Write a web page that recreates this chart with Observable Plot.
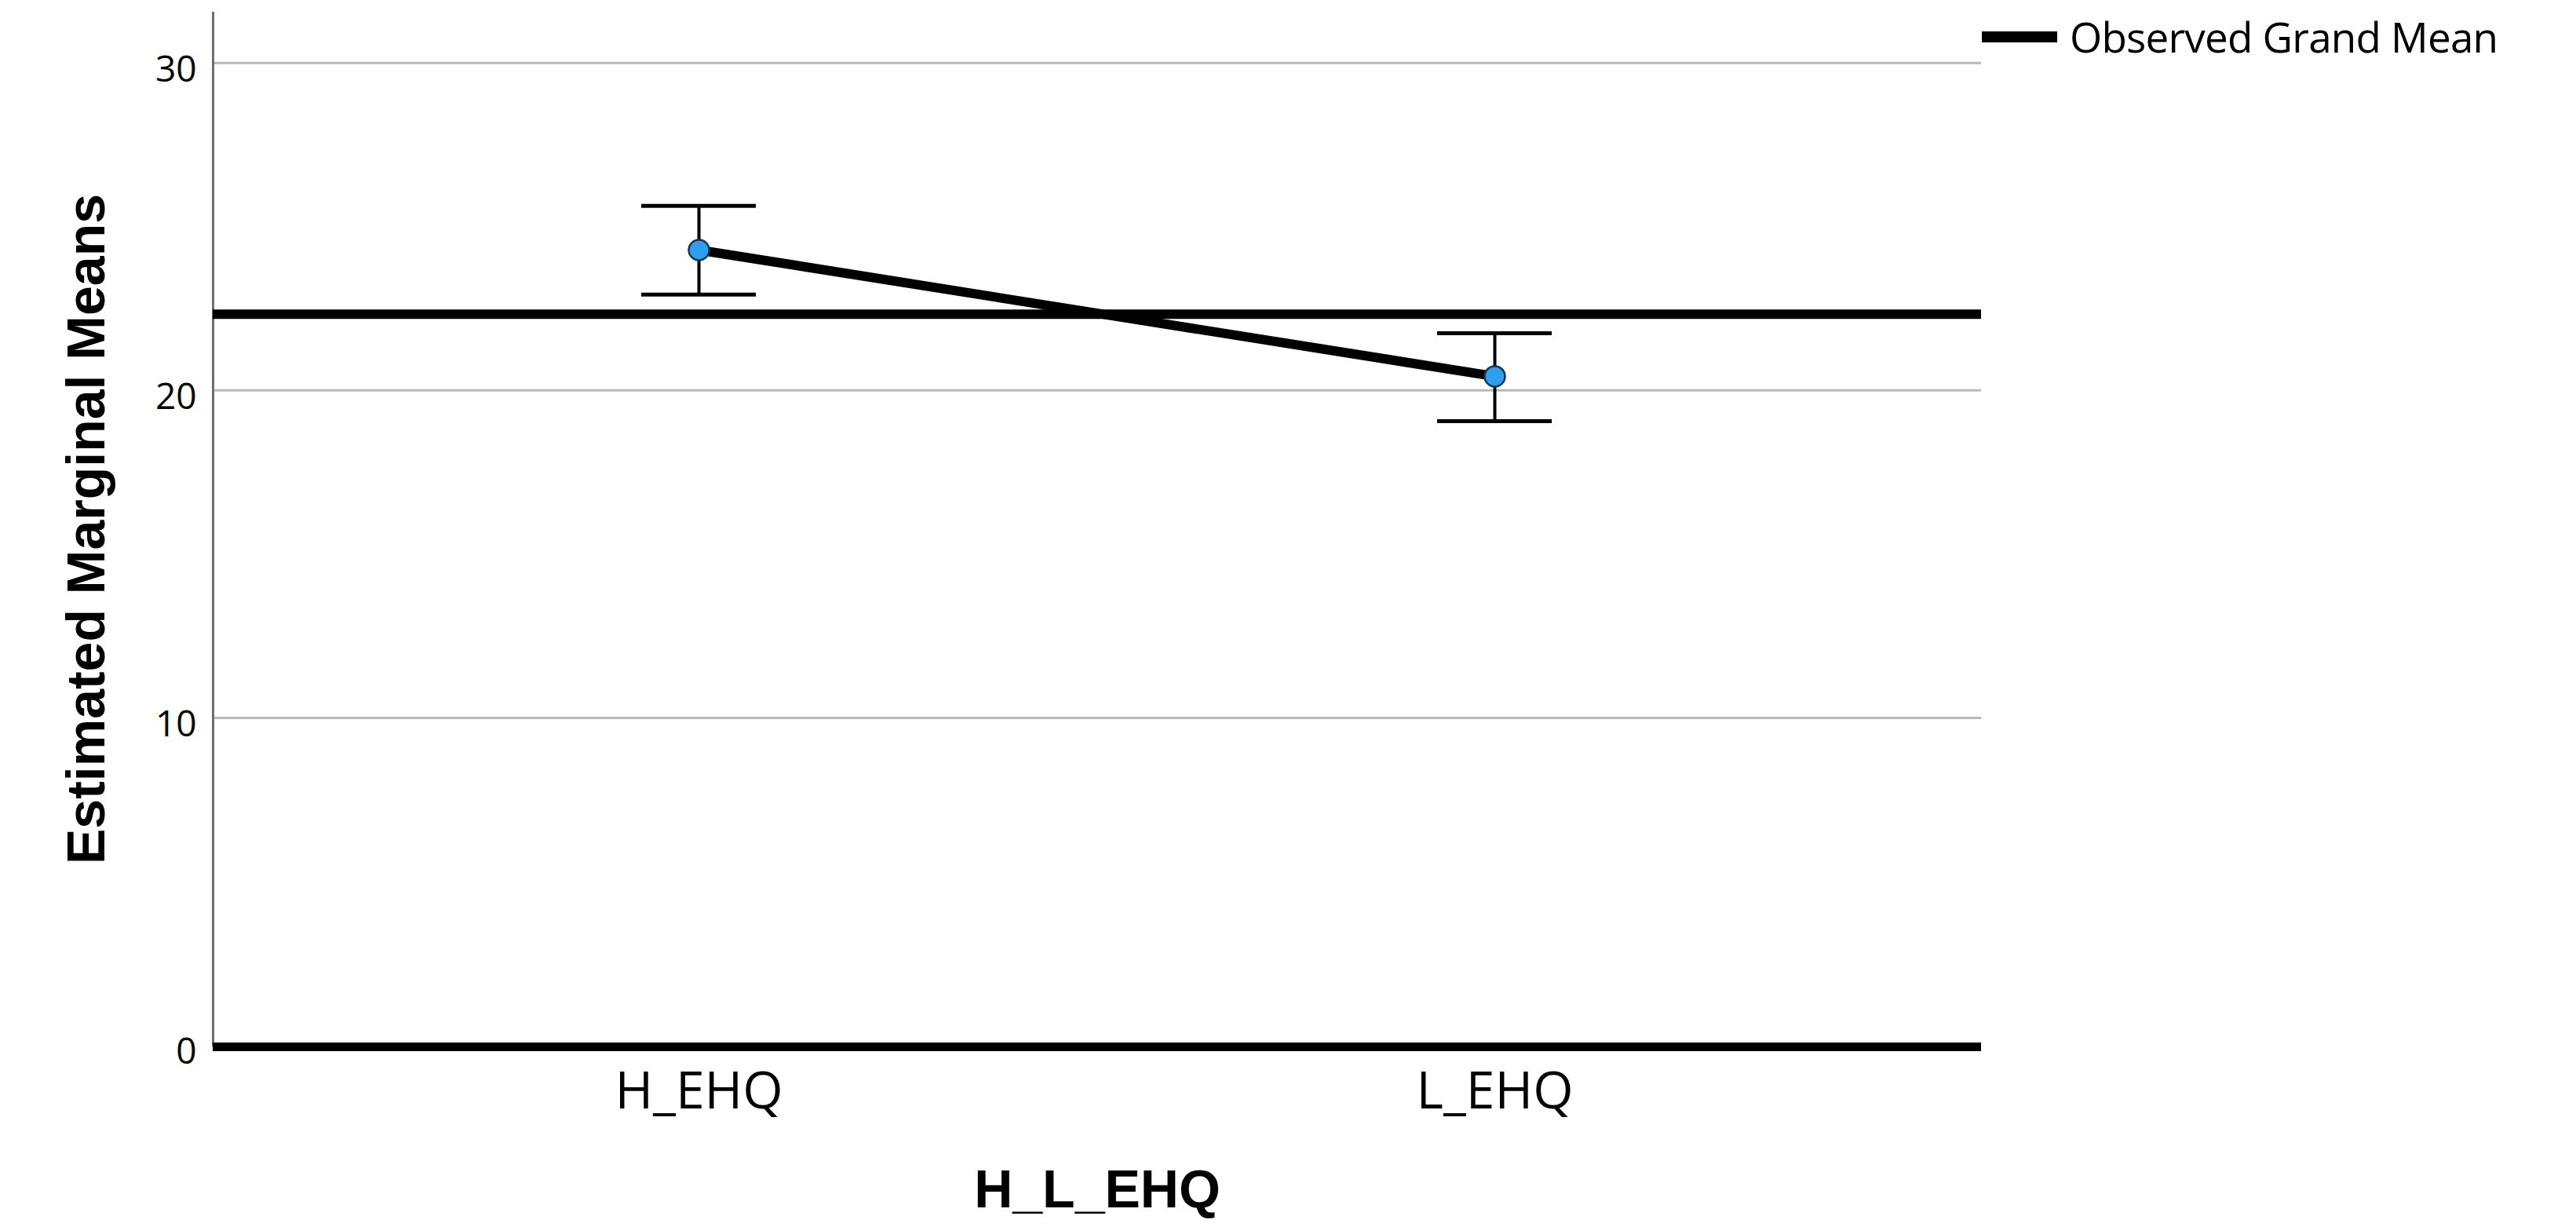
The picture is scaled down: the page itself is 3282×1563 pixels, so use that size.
<!DOCTYPE html>
<html><head><meta charset="utf-8">
<script src="https://cdn.jsdelivr.net/npm/d3@7"></script>
<script src="https://cdn.jsdelivr.net/npm/@observablehq/plot@0.6"></script>
<style>
html,body{margin:0;padding:0;background:#fff;overflow:hidden;}
#wrap{position:relative;width:3282px;height:1563px;}
#legend{position:absolute;left:2525px;top:10px;display:flex;align-items:center;font-family:"Open Sans";font-size:53px;letter-spacing:-0.8px;color:#000;white-space:nowrap;}
#legend .sw{display:inline-block;width:96px;height:14px;background:#000;margin-right:16px;}
</style></head><body>
<div id="wrap"><div id="legend"><span class="sw"></span><span>Observed Grand Mean</span></div></div>
<script>
const categories = ["H_EHQ", "L_EHQ"];
const means = [24.29, 20.43];
const lowerCI = [22.93, 19.06];
const upperCI = [25.64, 21.75];
const grandMean = [22.33];
const yTicks = [0, 10, 20, 30];
const xTitle = "H_L_EHQ";
const yTitle = "Estimated Marginal Means";

const data = categories.map((c, i) => ({cat: c, mean: means[i], lo: lowerCI[i], hi: upperCI[i]}));

const chart = Plot.plot({
  width: 3282,
  height: 1563,
  marginLeft: 271,
  marginRight: 758,
  marginTop: 16,
  marginBottom: 232,
  x: {type: "band", domain: categories, paddingInner: 0.856, paddingOuter: 0.5385, align: 0.5},
  y: {domain: [0, 31.53]},
  style: {fontFamily: "Open Sans", background: "white", color: "black", overflow: "visible"},
  marks: [
    Plot.gridY(yTicks, {stroke: "#b8b8b8", strokeOpacity: 1, strokeWidth: 3}),
    Plot.frame({anchor: "left", stroke: "#6e6e6e", strokeWidth: 3}),
    Plot.ruleY([0], {stroke: "#000", strokeWidth: 11, dy: 2}),
    Plot.ruleY(grandMean, {stroke: "#000", strokeWidth: 12}),
    Plot.line(data, {x: "cat", y: "mean", stroke: "#000", strokeWidth: 12}),
    Plot.ruleX(data, {x: "cat", y1: "lo", y2: "hi", stroke: "#000", strokeWidth: 4}),
    Plot.tickY(data, {x: "cat", y: "lo", stroke: "#000", strokeWidth: 5}),
    Plot.tickY(data, {x: "cat", y: "hi", stroke: "#000", strokeWidth: 5}),
    Plot.dot(data, {x: "cat", y: "mean", r: 13, fill: "#2aa0f0", stroke: "#17364d", strokeWidth: 2.5}),
    Plot.axisY({ticks: yTicks, tickSize: 0, tickPadding: 21, fontSize: 46, dy: 9, label: null}),
    Plot.axisY({ticks: [], label: yTitle, labelArrow: "none", labelAnchor: "center", labelOffset: 187, fontSize: 68, fontWeight: "bold", fontFamily: "Liberation Sans"}),
    Plot.axisX({tickSize: 0, tickPadding: 34, fontSize: 66, label: null}),
    Plot.axisX({ticks: [], label: xTitle, labelArrow: "none", labelAnchor: "center", labelOffset: 206, fontSize: 68, fontWeight: "bold", fontFamily: "Liberation Sans"})
  ]
});
document.getElementById("wrap").prepend(chart);
</script>
</body></html>
